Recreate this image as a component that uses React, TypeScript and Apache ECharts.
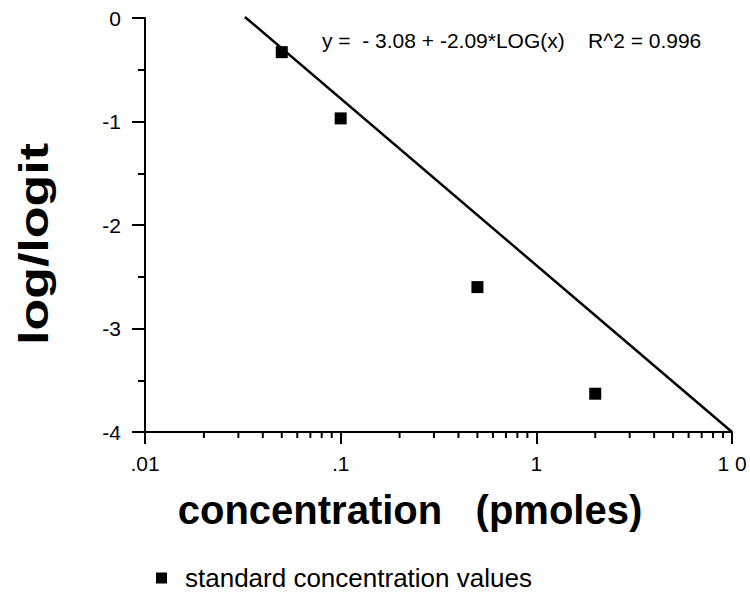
import React, { useEffect, useRef } from "react";
import * as echarts from "echarts";

const concentrations = [0.05, 0.1, 0.5, 2];
const logLogitValues = [-0.33, -0.97, -2.6, -3.63];
const fitLine = [
  [0.0324, 0.01],
  [10, -4],
];
const xTickExponents = [-2, -1, 0, 1];
const xTickLabels = [".01", ".1", "1", "1 0"];
const xMinorTicks = [
  0.02, 0.03, 0.04, 0.05, 0.06, 0.07, 0.08, 0.09,
  0.2, 0.3, 0.4, 0.5, 0.6, 0.7, 0.8, 0.9,
  2, 3, 4, 5, 6, 7, 8, 9,
];
const equationText = "y =  - 3.08 + -2.09*LOG(x)    R^2 = 0.996";
const xTitle = "concentration   (pmoles)";
const yTitle = "log/logit";
const seriesName = "standard concentration values";

const FONT = "'Liberation Sans', Arial, Helvetica, sans-serif";

export default function App() {
  const ref = useRef<HTMLDivElement>(null);
  useEffect(() => {
    if (!ref.current) return;
    const chart = echarts.init(ref.current, undefined, { renderer: "svg" });
    chart.setOption({
      animation: false,
      backgroundColor: "#ffffff",
      grid: { left: 145, right: 18, top: 18, bottom: 171, containLabel: false },
      xAxis: {
        type: "log",
        logBase: 10,
        min: 0.01,
        max: 10,
        axisLine: { show: true, onZero: false, lineStyle: { color: "#000", width: 2 } },
        axisTick: { show: true, length: 12, lineStyle: { color: "#000", width: 2 } },
        splitLine: { show: false },
        axisLabel: {
          color: "#000",
          fontSize: 21,
          fontFamily: FONT,
          margin: 21,
          showMinLabel: true,
          showMaxLabel: true,
          formatter: (v: number) => {
            const e = Math.round(Math.log10(v));
            const i = xTickExponents.indexOf(e);
            return i >= 0 ? xTickLabels[i] : "";
          },
        },
      },
      yAxis: {
        type: "value",
        min: -4,
        max: 0,
        interval: 1,
        axisLine: { show: true, onZero: false, lineStyle: { color: "#000", width: 2 } },
        axisTick: { show: true, length: 13, lineStyle: { color: "#000", width: 2 } },
        minorTick: { show: true, splitNumber: 2, length: 7, lineStyle: { color: "#000", width: 2 } },
        splitLine: { show: false },
        axisLabel: { color: "#000", fontSize: 21, fontFamily: FONT, margin: 24 },
      },
      legend: {
        data: [seriesName],
        left: 151,
        top: 560,
        icon: "rect",
        itemWidth: 11,
        itemHeight: 11,
        textStyle: { color: "#000", fontSize: 26, fontFamily: FONT, padding: [0, 0, 0, 13] },
      },
      graphic: [
        {
          type: "text",
          x: 322,
          y: 40,
          style: {
            text: equationText,
            fontSize: 21,
            fontFamily: FONT,
            fill: "#000",
            align: "left",
            verticalAlign: "middle",
          },
        },
        {
          type: "text",
          x: 410,
          y: 510,
          style: {
            text: xTitle,
            fontSize: 40,
            fontWeight: "bold",
            fontFamily: FONT,
            fill: "#000",
            align: "center",
            verticalAlign: "middle",
          },
        },
        {
          type: "text",
          x: 34,
          y: 244,
          rotation: Math.PI / 2,
          scaleX: 1.3,
          style: {
            text: yTitle,
            fontSize: 40,
            fontWeight: "bold",
            fontFamily: FONT,
            fill: "#000",
            align: "center",
            verticalAlign: "middle",
          },
        },
      ],
      series: [
        {
          type: "line",
          name: "fit",
          data: fitLine,
          showSymbol: false,
          clip: false,
          lineStyle: { color: "#000", width: 2.5 },
          silent: true,
        },
        {
          type: "scatter",
          name: seriesName,
          data: concentrations.map((c, i) => [c, logLogitValues[i]]),
          symbol: "rect",
          symbolSize: 12,
          itemStyle: { color: "#000", opacity: 1 },
        },
        {
          type: "custom",
          name: "minorTicks",
          silent: true,
          data: xMinorTicks.map((v) => [v, -4]),
          encode: { x: 0, y: 1 },
          renderItem: (_params: any, api: any) => {
            const p = api.coord([api.value(0), api.value(1)]);
            return {
              type: "line",
              shape: { x1: p[0], y1: p[1], x2: p[0], y2: p[1] + 6 },
              style: { stroke: "#000", lineWidth: 2 },
            };
          },
        },
      ],
    });
    return () => chart.dispose();
  }, []);
  return (
    <div
      ref={ref}
      style={{ position: "absolute", left: 0, top: 0, width: 750, height: 603 }}
    />
  );
}
